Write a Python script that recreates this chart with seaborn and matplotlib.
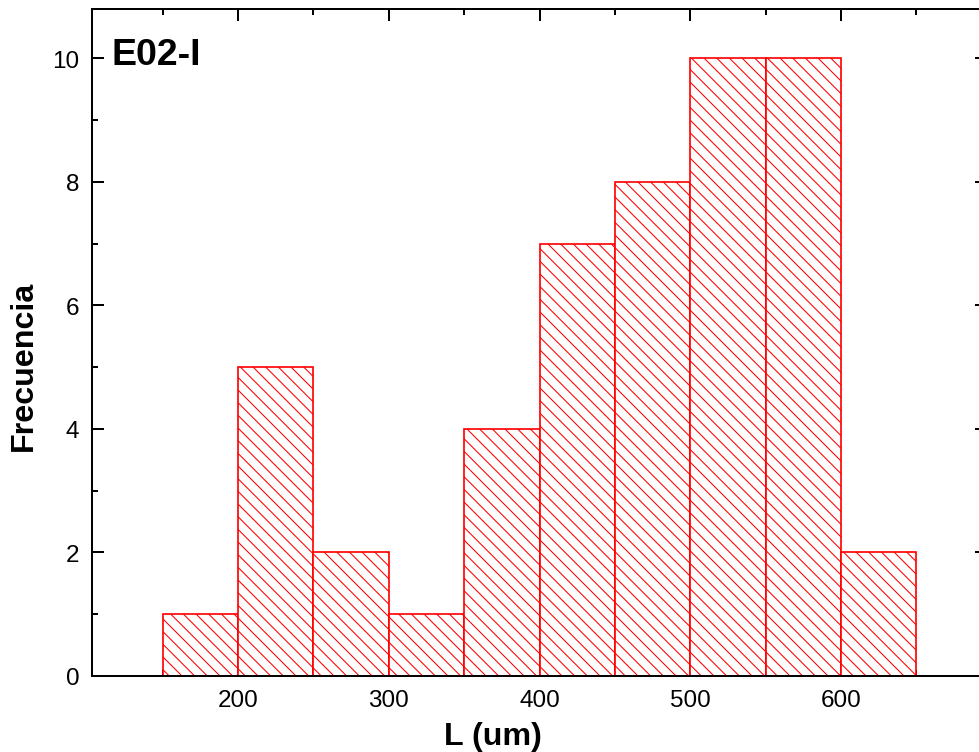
import matplotlib
matplotlib.use("Agg")
import matplotlib.pyplot as plt
from matplotlib.ticker import MultipleLocator
import numpy as np
import seaborn as sns

# Data
bin_edges = [150, 200, 250, 300, 350, 400, 450, 500, 550, 600, 650]
bin_centers = [175, 225, 275, 325, 375, 425, 475, 525, 575, 625]
counts = [1, 5, 2, 1, 4, 7, 8, 10, 10, 2]
x_ticks = [200, 300, 400, 500, 600]
y_ticks = [0, 2, 4, 6, 8, 10]

sns.set_style("ticks")
plt.rcParams["font.family"] = ["Liberation Sans", "DejaVu Sans"]
plt.rcParams["hatch.color"] = "red"
plt.rcParams["hatch.linewidth"] = 1.0
for k in ["text.color", "axes.labelcolor", "xtick.color", "ytick.color",
          "xtick.labelcolor", "ytick.labelcolor", "axes.edgecolor"]:
    plt.rcParams[k] = "black"

DPI = 76
W, H = 979, 753
fig = plt.figure(figsize=(W / DPI, H / DPI), dpi=DPI)
ax = fig.add_axes([92 / W, (H - 677) / H, (987 - 92) / W, (677 - 10) / H])

sns.histplot(x=bin_centers, weights=counts, bins=bin_edges, ax=ax,
             color="red", stat="count")
for p in ax.patches:
    p.set_alpha(1)
    p.set_facecolor("white")
    p.set_edgecolor("red")
    p.set_linewidth(1.6)
    p.set_hatch("\\\\")

ax.set_xlim(103, 697)
ax.set_ylim(0, 10.8)
ax.set_xticks(x_ticks)
ax.set_yticks(y_ticks)
ax.xaxis.set_minor_locator(MultipleLocator(50))
ax.yaxis.set_minor_locator(MultipleLocator(1))
ax.tick_params(which="both", direction="in", top=True, right=True,
               width=1.9, color="black", labelcolor="black")
ax.tick_params(which="major", length=11.8, labelsize=23)
ax.tick_params(which="minor", length=5.7)
ax.tick_params(axis="x", which="major", pad=12)
ax.tick_params(axis="y", which="major", pad=12)
for s in ax.spines.values():
    s.set_linewidth(1.9)
    s.set_color("black")
ax.set_xlabel("")
ax.set_ylabel("")

fig.text(493 / W, 1 - 745 / H, "L (um)", ha="center", va="baseline",
         fontsize=30.5, fontweight="bold", color="black")
fig.text(24 / W, 1 - 366 / H, "Frecuencia", ha="center", va="center",
         rotation=90, fontsize=30.5, fontweight="bold", color="black")
fig.text(112 / W, 1 - 65 / H, "E02-I", ha="left", va="baseline",
         fontsize=35.5, fontweight="bold", color="black")

fig.savefig("out.png", dpi=DPI, facecolor="white")
